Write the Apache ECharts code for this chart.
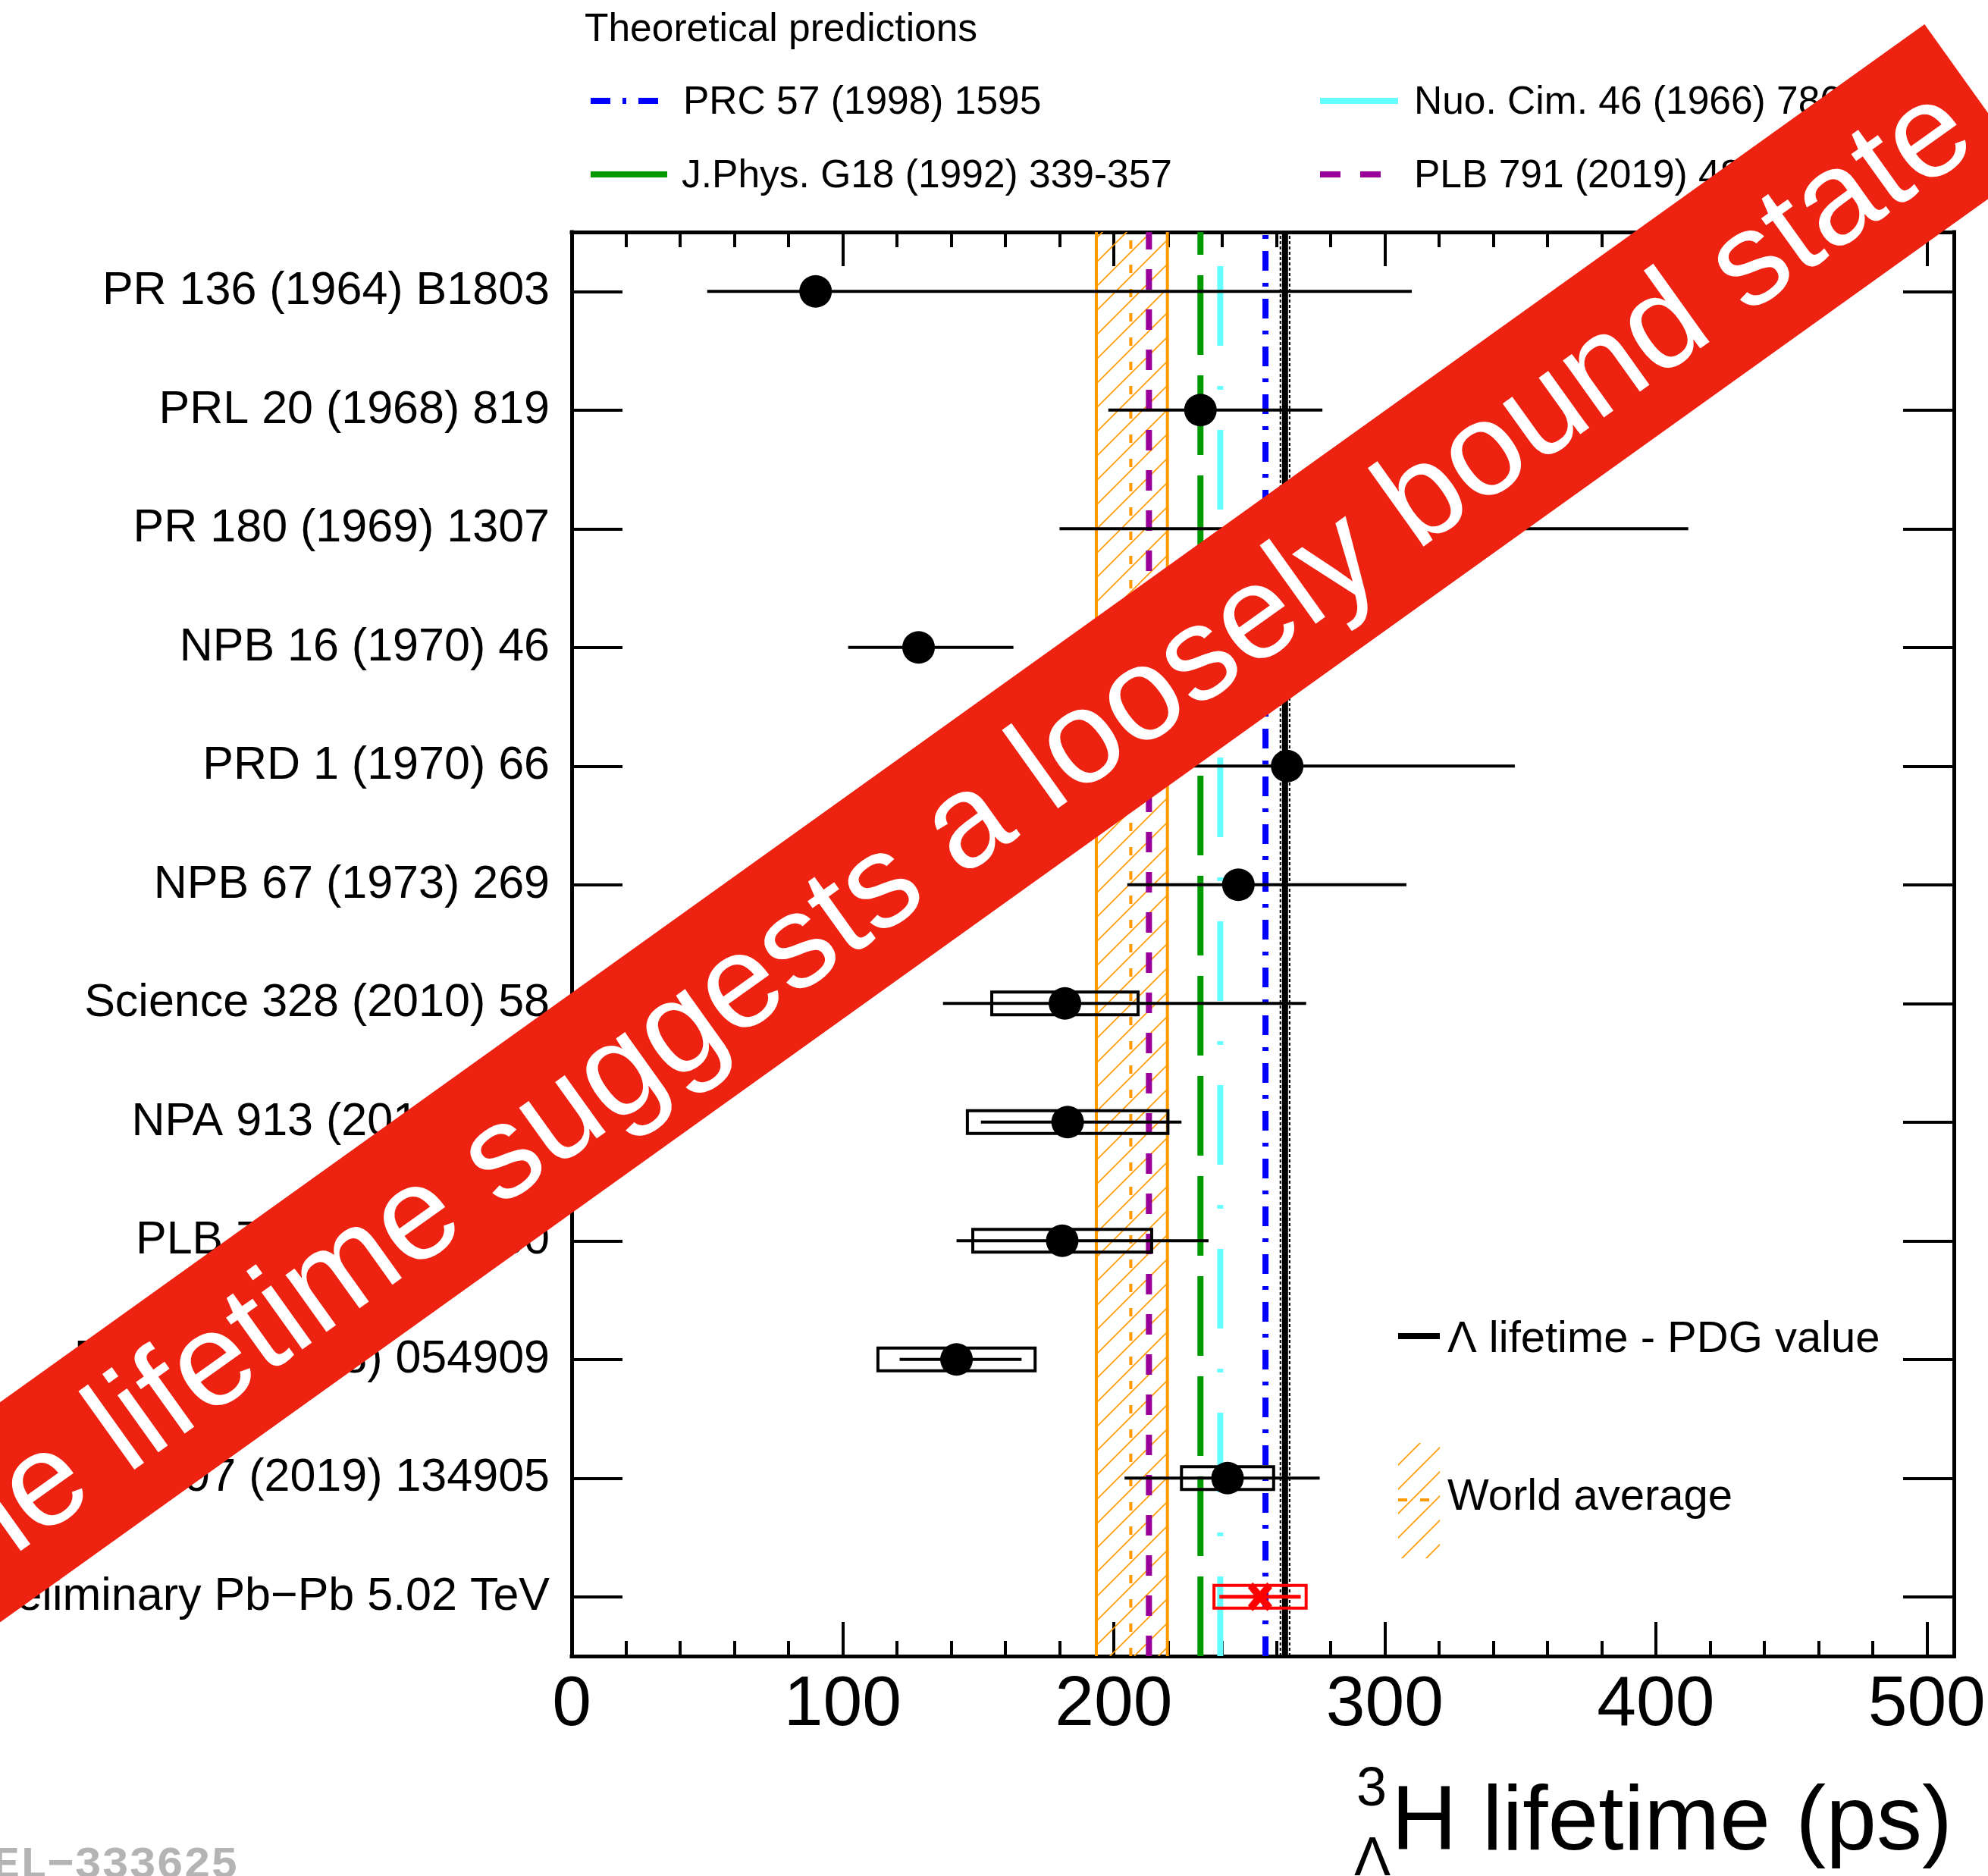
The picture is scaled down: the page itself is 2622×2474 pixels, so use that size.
<!DOCTYPE html>
<html>
<head>
<meta charset="utf-8">
<script src="https://cdn.jsdelivr.net/npm/echarts@6/dist/echarts.min.js"></script>
<style>
  html, body { margin: 0; padding: 0; background: #ffffff; }
  #chart { width: 2622px; height: 2474px; }
</style>
</head>
<body>
<div id="chart"></div>
<script>
// Hypertriton lifetime measurements (ps): central value, asymmetric stat. errors, syst. error
const categories = [
  'PR 136 (1964) B1803',
  'PRL 20 (1968) 819',
  'PR 180 (1969) 1307',
  'NPB 16 (1970) 46',
  'PRD 1 (1970) 66',
  'NPB 67 (1973) 269',
  'Science 328 (2010) 58',
  'NPA 913 (2013) 170',
  'PLB 754 (2016) 360',
  'PRC 97 (2018) 054909',
  'PLB 797 (2019) 134905',
  'ALICE Preliminary Pb\u2212Pb 5.02 TeV'
];
const lifetime = [90, 232, 285, 128, 264, 246, 182, 183, 181, 142, 242, 254];
const statLow  = [40, 34, 105, 26, 52, 41, 45, 32, 39, 21, 38, 15];
const statHigh = [220, 45, 127, 35, 84, 62, 89, 42, 54, 24, 34, 15];
const systErr  = [null, null, null, null, null, null, 27, 37, 33, 29, 17, 17];

// Theoretical predictions (ps)
const theoryLabels = ['PRC 57 (1998) 1595', 'Nuo. Cim. 46 (1966) 786', 'J.Phys. G18 (1992) 339-357', 'PLB 791 (2019) 48'];
const theoryValues = [256, 239.3, 232, 213];

// World average: central, lower edge, upper edge (ps)
const worldAverage = [206.3, 193.6, 219.8];
// Free Lambda lifetime (PDG): value, uncertainty (ps)
const lambdaPDG = [263.2, 1.7];

const xTickLabels = [0, 100, 200, 300, 400, 500];

const FONT = '"Liberation Sans", Arial, Helvetica, sans-serif';
const ORANGE = '#ff9900';
const PREL = categories.length - 1;

// diagonal hatch tile for the world-average band
const hatch = document.createElement('canvas');
hatch.width = 32; hatch.height = 32;
(function () {
  const c = hatch.getContext('2d');
  c.strokeStyle = ORANGE; c.lineWidth = 1.6;
  c.beginPath();
  c.moveTo(0, 32); c.lineTo(32, 0);
  c.moveTo(-4, 4); c.lineTo(4, -4);
  c.moveTo(28, 36); c.lineTo(36, 28);
  c.stroke();
})();
const hatchFill = { type: 'pattern', image: hatch, repeat: 'repeat' };

// a full-height vertical line at a given lifetime
function vline(name, value, style, z) {
  return {
    type: 'custom', name: name, z: z, silent: true, clip: true,
    data: [[value, 0]],
    encode: { x: 0, y: 1 },
    renderItem: function (params, api) {
      const x = api.coord([api.value(0), 0])[0];
      const cs = params.coordSys;
      return {
        type: 'line',
        shape: { x1: x, y1: cs.y + cs.height, x2: x, y2: cs.y },
        style: Object.assign({ fill: null }, style)
      };
    }
  };
}

const theoryStyles = [
  { stroke: '#0000ff', lineWidth: 8, lineDash: [26, 16, 5, 16] },
  { stroke: '#66ffff', lineWidth: 8, lineDash: [105, 53, 5, 53] },
  { stroke: '#009900', lineWidth: 8, lineDash: [105, 27] },
  { stroke: '#990099', lineWidth: 8, lineDash: [27, 26] }
];

const statData = [];
const systData = [];
lifetime.forEach(function (v, i) {
  statData.push([v - statLow[i], v + statHigh[i], i]);
  if (systErr[i] != null) systData.push([v - systErr[i], v + systErr[i], i]);
});

function barRender(color, width) {
  return function (params, api) {
    const idx = api.value(2);
    const p0 = api.coord([api.value(0), idx]);
    const p1 = api.coord([api.value(1), idx]);
    return {
      type: 'line',
      shape: { x1: p0[0], y1: p0[1], x2: p1[0], y2: p1[1] },
      style: { stroke: idx === PREL ? '#ff0000' : color, lineWidth: idx === PREL ? 5 : width, fill: null }
    };
  };
}

function boxRender(params, api) {
  const idx = api.value(2);
  const p0 = api.coord([api.value(0), idx]);
  const p1 = api.coord([api.value(1), idx]);
  return {
    type: 'rect',
    shape: { x: p0[0], y: p0[1] - 15, width: p1[0] - p0[0], height: 30 },
    style: { fill: null, stroke: idx === PREL ? '#ff0000' : '#000000', lineWidth: 4 }
  };
}

const series = [];

// world average band (hatched) with its edges and central value
series.push({
  type: 'custom', name: 'World average', z: 1, silent: true, clip: true,
  data: [[worldAverage[1], worldAverage[2], 0]],
  encode: { x: [0, 1], y: 2 },
  renderItem: function (params, api) {
    const x0 = api.coord([api.value(0), 0])[0];
    const x1 = api.coord([api.value(1), 0])[0];
    const cs = params.coordSys;
    return { type: 'rect', shape: { x: x0, y: cs.y, width: x1 - x0, height: cs.height }, style: { fill: hatchFill } };
  }
});
series.push(vline('wa-low', worldAverage[1], { stroke: ORANGE, lineWidth: 4 }, 2));
series.push(vline('wa-high', worldAverage[2], { stroke: ORANGE, lineWidth: 4 }, 2));
series.push(vline('wa-central', worldAverage[0], { stroke: ORANGE, lineWidth: 4, lineDash: [11, 21] }, 2));

// theoretical predictions
theoryValues.forEach(function (v, i) {
  series.push(vline(theoryLabels[i], v, theoryStyles[i], 3));
});

// Lambda lifetime with its uncertainty
series.push(vline('pdg-low', lambdaPDG[0] - lambdaPDG[1], { stroke: '#000', lineWidth: 2, lineDash: [4, 3] }, 3));
series.push(vline('pdg-high', lambdaPDG[0] + lambdaPDG[1], { stroke: '#000', lineWidth: 2, lineDash: [4, 3] }, 3));
series.push(vline('\u039b lifetime - PDG value', lambdaPDG[0], { stroke: '#000', lineWidth: 8 }, 3));

// measurements
series.push({
  type: 'custom', name: 'stat', z: 5, silent: true,
  data: statData, encode: { x: [0, 1], y: 2 },
  renderItem: barRender('#000000', 4)
});
series.push({
  type: 'custom', name: 'syst', z: 5, silent: true,
  data: systData, encode: { x: [0, 1], y: 2 },
  renderItem: boxRender
});
series.push({
  type: 'scatter', name: 'measurements', z: 6, silent: true,
  symbol: 'circle', symbolSize: 43,
  itemStyle: { color: '#000000', opacity: 1 },
  data: lifetime.slice(0, PREL).map(function (v, i) { return [v, i]; })
});
series.push({
  type: 'scatter', name: 'preliminary', z: 6, silent: true,
  symbol: 'path://M0,2 L2,0 L5,3 L8,0 L10,2 L7,5 L10,8 L8,10 L5,7 L2,10 L0,8 L3,5 Z',
  symbolSize: [32, 38],
  itemStyle: { color: '#ff0000', opacity: 1 },
  data: [[lifetime[PREL], PREL]]
});

const axisLineStyle = { color: '#000', width: 5, cap: 'square' };
const tickStyle = { color: '#000', width: 4 };

function xAx(pos, interval, len, labels) {
  return {
    type: 'value', position: pos, min: 0, max: 510, interval: interval,
    axisLine: { show: labels, onZero: false, lineStyle: axisLineStyle },
    axisTick: { show: true, inside: true, length: len, lineStyle: tickStyle },
    axisLabel: labels && pos === 'bottom' ? {
      show: true, margin: 19, color: '#000', fontFamily: FONT, fontSize: 93,
      formatter: function (v) { return xTickLabels.indexOf(v) >= 0 ? String(v) : ''; }
    } : { show: false },
    splitLine: { show: false }
  };
}

function yAx(pos, withLine, withTicks, withLabels) {
  return {
    type: 'category', data: categories, inverse: true, position: pos,
    axisLine: { show: withLine, onZero: false, lineStyle: axisLineStyle },
    axisTick: { show: withTicks, inside: true, alignWithLabel: true, interval: 0, length: 67, lineStyle: tickStyle },
    axisLabel: withLabels ? { show: true, interval: 0, margin: 29, color: '#000', fontFamily: FONT, fontSize: 61 } : { show: false },
    splitLine: { show: false }
  };
}

const option = {
  backgroundColor: '#ffffff',
  animation: false,
  textStyle: { fontFamily: FONT },
  grid: { left: 754, right: 45, top: 306, bottom: 290, containLabel: false, outerBoundsMode: 'none' },
  xAxis: [
    xAx('bottom', 100, 45, true),
    xAx('bottom', 20, 20, false),
    xAx('top', 100, 45, true),
    xAx('top', 20, 20, false)
  ],
  yAxis: [
    yAx('left', true, false, true),
    yAx('right', true, true, false),
    yAx('left', false, true, false)
  ],
  series: series,
  graphic: []
};

function txt(text, x, y, size, opts) {
  opts = opts || {};
  return {
    type: 'text', x: x, y: y, z: opts.z || 50, silent: true,
    style: {
      text: text, fill: opts.fill || '#000',
      font: (opts.weight || 'normal') + ' ' + size + 'px ' + (opts.family || FONT),
      align: opts.align || 'left', textAlign: opts.align || 'left',
      verticalAlign: 'middle', textVerticalAlign: 'middle'
    }
  };
}
function seg(x1, y1, x2, y2, style) {
  return { type: 'line', z: 50, silent: true, shape: { x1: x1, y1: y1, x2: x2, y2: y2 }, style: Object.assign({ fill: null }, style) };
}

const g = option.graphic;
// legend of the theoretical predictions
g.push(txt('Theoretical predictions', 771, 40, 51.5));
g.push(seg(779, 133, 870, 133, theoryStyles[0]));
g.push(txt(theoryLabels[0], 901, 136, 51.5));
g.push(seg(779, 230, 880, 230, { stroke: theoryStyles[2].stroke, lineWidth: 8 }));
g.push(txt(theoryLabels[2], 899, 233, 51.5));
g.push(seg(1741, 133, 1844, 133, { stroke: theoryStyles[1].stroke, lineWidth: 8 }));
g.push(txt(theoryLabels[1], 1865, 136, 51.5));
g.push(seg(1741, 230, 1822, 230, { stroke: theoryStyles[3].stroke, lineWidth: 8, lineDash: [27, 26] }));
g.push(txt(theoryLabels[3], 1865, 233, 51.5));

// in-frame legend
g.push(seg(1844, 1762, 1899, 1762, { stroke: '#000', lineWidth: 8 }));
g.push(txt('\u039b lifetime - PDG value', 1909, 1767, 58));
g.push({ type: 'rect', z: 50, silent: true, shape: { x: 1844, y: 1903, width: 55, height: 152 }, style: { fill: hatchFill } });
g.push(seg(1844, 1978, 1899, 1978, { stroke: ORANGE, lineWidth: 4, lineDash: [12, 17] }));
g.push(txt('World average', 1909, 1975, 58));

// x-axis title with pre-scripts
g.push(txt('H lifetime (ps)', 2575, 2406, 120, { align: 'right' }));
g.push(txt('3', 1809, 2361, 72, { align: 'center' }));
g.push(txt('\u039b', 1810, 2453, 72, { align: 'center' }));

// figure identifier
g.push(txt('ALI\u2212PREL\u2212333625', 314, 2461, 60, { align: 'right', fill: '#b4b4b4', weight: 'bold', family: '"Liberation Mono", "DejaVu Sans Mono", monospace' }));

// diagonal banner
const bannerAngle = 35.6 * Math.PI / 180;
g.push({
  type: 'group', x: 2607, y: 128, rotation: bannerAngle, z: 100, silent: true,
  children: [
    { type: 'rect', z: 100, shape: { x: -5000, y: -118, width: 5000, height: 236 }, style: { fill: '#ee2211' } },
    {
      type: 'text', z: 101, x: -35, y: 9,
      style: {
        text: 'The lifetime suggests a loosely bound state', fill: '#ffffff',
        font: '175px ' + FONT, align: 'right', textAlign: 'right',
        verticalAlign: 'middle', textVerticalAlign: 'middle'
      }
    }
  ]
});

const chart = echarts.init(document.getElementById('chart'), null, { renderer: 'canvas', width: 2622, height: 2474 });
chart.setOption(option);
</script>
</body>
</html>
